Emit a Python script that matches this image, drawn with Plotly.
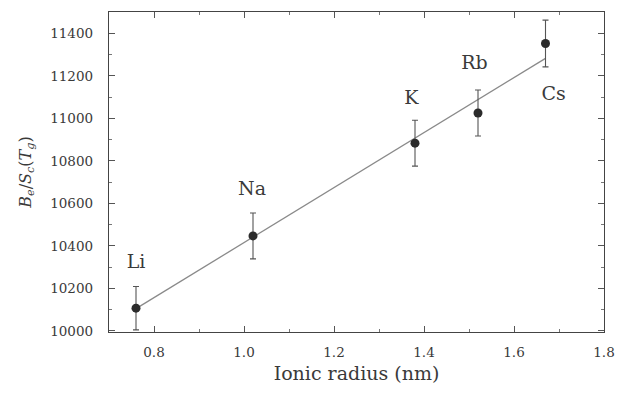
import plotly.graph_objects as go

ions = ["Li", "Na", "K", "Rb", "Cs"]
radius = [0.76, 1.02, 1.38, 1.52, 1.67]
ratio = [10107, 10447, 10883, 11025, 11352]
err = [102, 108, 108, 108, 110]
fit_x = [0.76, 1.67]
fit_y = [10105, 11282]
label_x = [0.76, 1.018, 1.372, 1.512, 1.688]
label_y = [10318, 10664, 11088, 11254, 11110]

FONT = "DejaVu Serif"
TXT = "#3a3a3a"

fig = go.Figure()
fig.add_trace(go.Scatter(x=fit_x, y=fit_y, mode="lines",
                         line=dict(color="#8a8a8a", width=1.3),
                         showlegend=False, hoverinfo="skip"))
fig.add_trace(go.Scatter(x=radius, y=ratio, mode="markers",
                         marker=dict(color="#2b2b2b", size=9),
                         error_y=dict(type="data", array=err, visible=True,
                                      color="#555555", thickness=1.1, width=3),
                         showlegend=False))
fig.add_trace(go.Scatter(x=label_x, y=label_y, mode="text", text=ions,
                         textfont=dict(family=FONT, size=19, color=TXT),
                         showlegend=False, hoverinfo="skip"))

axis_common = dict(showline=True, linecolor="#444444", linewidth=1.4,
                   mirror="ticks", ticks="inside", ticklen=6, tickwidth=1,
                   tickcolor="#555555", showgrid=False, zeroline=False,
                   tickfont=dict(family=FONT, size=13.5, color=TXT))

fig.update_xaxes(range=[0.7, 1.8], dtick=0.2, tick0=0.8, tickformat=".1f",
                 ticklabelstandoff=8,
                 minor=dict(dtick=0.1, tick0=0.7, ticks="inside", ticklen=3,
                            tickcolor="#777777"),
                 title=dict(text="Ionic radius (nm)",
                            font=dict(family=FONT, size=19, color=TXT),
                            standoff=7),
                 **axis_common)
fig.update_yaxes(range=[9995, 11500], dtick=200, tick0=10000, tickformat="d",
                 ticklabelstandoff=12,
                 minor=dict(dtick=100, ticks="inside", ticklen=3,
                            tickcolor="#777777"),
                 title=dict(text="<i>B</i><sub><i>e</i></sub>/<i>S</i><sub><i>c</i></sub>(<i>T</i><sub><i>g</i></sub>)",
                            font=dict(family=FONT, size=16, color=TXT),
                            standoff=14),
                 **axis_common)

fig.update_layout(width=631, height=395,
                  margin=dict(l=109, r=27, t=12, b=63),
                  paper_bgcolor="white", plot_bgcolor="white")

fig.write_html("out.html")
